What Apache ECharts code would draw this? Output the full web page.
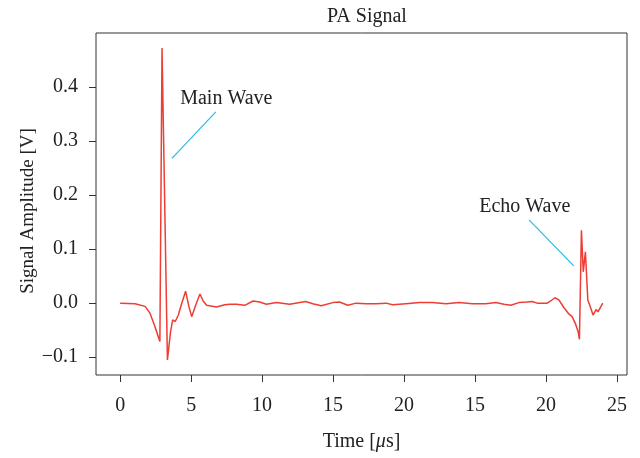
<!DOCTYPE html>
<html>
<head>
<meta charset="utf-8">
<title>PA Signal</title>
<script src="https://cdn.jsdelivr.net/npm/echarts@6/dist/echarts.min.js"></script>
<style>
html, body { margin: 0; padding: 0; background: #fff; }
#chart_container { width: 640px; height: 458px; }
</style>
</head>
<body>
<div id="chart_container"></div>
<script>
// x positions on the plotted axis (the printed tick labels restart after 20, see x_tick_labels)
const time_pos = [
    0, 1.05, 1.76, 2.11, 2.46, 2.80, 2.95, 3.33, 3.55, 3.70, 3.88, 4.10, 4.33, 4.61, 4.85, 5.04,
    5.32, 5.62, 5.85, 6.09, 6.79, 7.37, 7.72, 8.19, 8.78, 9.36, 9.83, 10.30, 11.00, 11.94,
    13.06, 13.57, 14.16, 14.98, 15.45, 16.03, 16.62, 17.32, 18.03, 18.73, 19.19, 20.13,
    21.07, 22.00, 22.94, 23.88, 24.81, 25.75, 26.45, 27.04, 27.51, 28.09, 28.67, 29.02,
    29.37, 30.08, 30.32, 30.62, 30.90, 31.25, 31.60, 31.83, 32.07, 32.26, 32.35, 32.49,
    32.62, 32.77, 32.94, 33.12, 33.31, 33.52, 33.66, 33.99
];
const amplitude = [
    0, -0.001, -0.006, -0.019, -0.044, -0.071, 0.472, -0.105, -0.053, -0.031, -0.034, -0.022, -0.001, 0.022, -0.007, -0.025,
    -0.004, 0.017, 0.004, -0.004, -0.007, -0.003, -0.002, -0.002, -0.004, 0.004, 0.002, -0.002, 0.001, -0.002,
    0.003, -0.001, -0.005, 0.001, 0.002, -0.004, 0.000, -0.001, -0.001, 0.000, -0.003, -0.001,
    0.001, 0.001, -0.001, 0.001, -0.001, -0.001, 0.001, -0.002, -0.004, 0.001, 0.002, 0.003,
    0.000, 0.000, 0.004, 0.010, 0.006, -0.008, -0.020, -0.025, -0.038, -0.053, -0.067, 0.135,
    0.058, 0.095, 0.006, -0.007, -0.022, -0.012, -0.016, 0.000
];

const x_tick_pos = [0, 5, 10, 15, 20, 25, 30, 35];
const x_tick_labels = ['0', '5', '10', '15', '20', '15', '20', '25'];
const y_ticks = [-0.1, 0.0, 0.1, 0.2, 0.3, 0.4];

const annotation_texts = ['Main Wave', 'Echo Wave'];
const annotation_text_at = [[7.48, 0.378], [28.5, 0.178]];
const annotation_from = [[3.65, 0.268], [28.8, 0.154]];
const annotation_to = [[6.74, 0.354], [31.95, 0.069]];

const serif = "'Liberation Serif', 'DejaVu Serif', serif";
const text_color = '#222';

document.addEventListener("DOMContentLoaded", function () {
    let chart = echarts.init(document.getElementById('chart_container'));

    let line_data = time_pos.map((t, i) => [t, amplitude[i]]);

    let option = {
        animation: false,
        title: {
            text: 'PA Signal',
            left: 362, top: 2, textAlign: 'center',
            textStyle: { fontFamily: serif, fontSize: 20, fontWeight: 'normal', color: text_color }
        },
        grid: {
            left: 96, right: 13, top: 33, bottom: 83,
            show: true, borderColor: '#333', borderWidth: 1
        },
        xAxis: {
            type: 'value',
            min: -1.7, max: 35.7,
            name: 'Time [{i|μ}s]',
            nameLocation: 'middle',
            nameGap: 57,
            nameTextStyle: {
                fontFamily: serif, fontSize: 20, color: text_color,
                rich: { i: { fontFamily: serif, fontSize: 20, fontStyle: 'italic', color: text_color } }
            },
            axisLine: { show: false, onZero: false },
            splitLine: { show: false },
            axisTick: { show: true, customValues: x_tick_pos, length: 7, lineStyle: { color: '#333' } },
            axisLabel: {
                customValues: x_tick_pos,
                margin: 21,
                fontFamily: serif, fontSize: 20, color: text_color,
                formatter: v => x_tick_labels[x_tick_pos.indexOf(v)]
            }
        },
        yAxis: {
            type: 'value',
            min: -0.133, max: 0.5,
            name: 'Signal Amplitude [V]',
            nameLocation: 'middle',
            nameGap: 58,
            nameMoveOverlap: false,
            nameTextStyle: { fontFamily: serif, fontSize: 19, color: text_color, padding: [0, 14, 0, 0] },
            axisLine: { show: false, onZero: false },
            splitLine: { show: false },
            axisTick: { show: true, customValues: y_ticks, length: 7, lineStyle: { color: '#333' } },
            axisLabel: {
                customValues: y_ticks,
                margin: 18,
                fontFamily: serif, fontSize: 20, color: text_color,
                formatter: v => v.toFixed(1).replace('-', '\u2212')
            }
        },
        series: [
            {
                name: 'PA Signal',
                type: 'line',
                data: line_data,
                showSymbol: false,
                smooth: false,
                lineStyle: { color: '#ee3d33', width: 1.5 },
                markLine: {
                    silent: true,
                    symbol: ['none', 'none'],
                    label: { show: false },
                    lineStyle: { color: '#22bde0', width: 1.2, type: 'solid' },
                    data: annotation_from.map((f, i) => [{ coord: f }, { coord: annotation_to[i] }])
                },
                markPoint: {
                    silent: true,
                    symbol: 'circle',
                    symbolSize: 0,
                    label: {
                        show: true, position: 'inside', formatter: '{b}',
                        fontFamily: serif, fontSize: 20, color: text_color
                    },
                    data: annotation_texts.map((t, i) => ({ name: t, coord: annotation_text_at[i] }))
                }
            }
        ]
    };

    if (chart) {
        chart.setOption(option);
    } else {
        console.error("Echart instance failed to init");
    }
});
</script>
</body>
</html>
